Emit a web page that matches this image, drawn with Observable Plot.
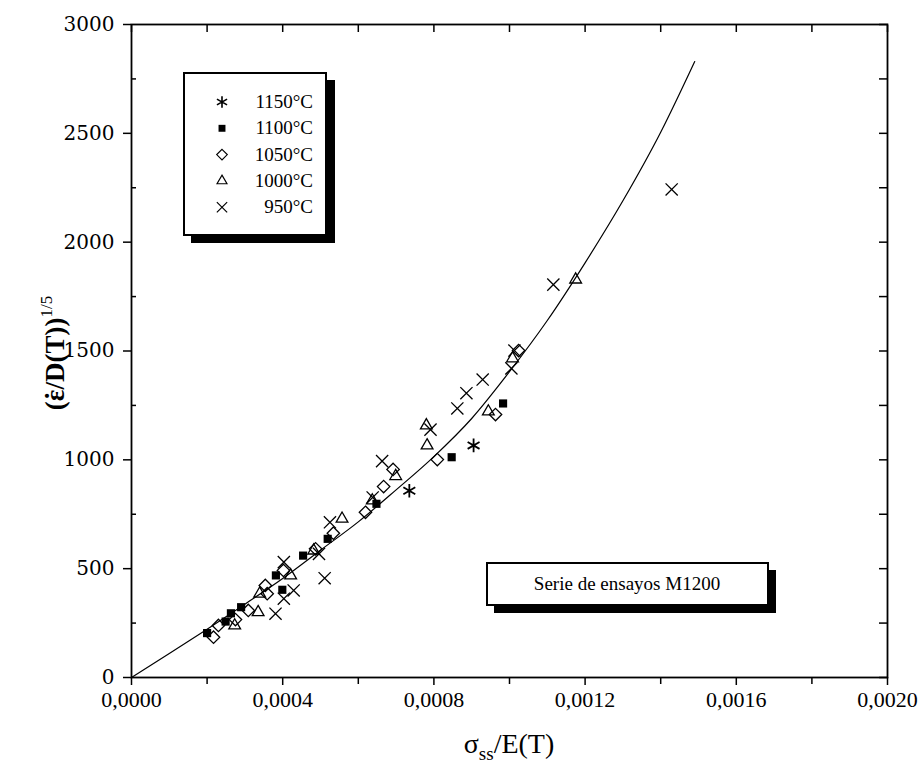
<!DOCTYPE html>
<html><head><meta charset="utf-8">
<script src="https://cdn.jsdelivr.net/npm/d3@7"></script>
<script src="https://cdn.jsdelivr.net/npm/@observablehq/plot@0.6"></script>
<style>body{margin:0;background:#fff}</style>
</head><body><div id="chart"></div>
<script>
// ---- data ----
const seriesNames = ["1150°C", "1100°C", "1050°C", "1000°C", "950°C"];

const x1150 = [0.000735, 0.000905];
const y1150 = [858, 1066];

const x1100 = [0.000200, 0.000249, 0.000263, 0.000290, 0.000382, 0.000399, 0.000454, 0.000519, 0.000648, 0.000847, 0.000983];
const y1100 = [204, 257, 295, 323, 469, 403, 560, 637, 798, 1012, 1259];

const x1050 = [0.000217, 0.000230, 0.000275, 0.000309, 0.000354, 0.000359, 0.000402, 0.000487, 0.000534, 0.000619, 0.000667, 0.000692, 0.000809, 0.000963, 0.001024];
const y1050 = [185, 239, 266, 308, 423, 385, 492, 591, 663, 759, 877, 956, 1001, 1208, 1502];

const x1000 = [0.000273, 0.000335, 0.000339, 0.000421, 0.000482, 0.000557, 0.000637, 0.000699, 0.000782, 0.000780, 0.000944, 0.001008, 0.001175];
const y1000 = [239, 300, 385, 469, 583, 729, 813, 925, 1066, 1158, 1222, 1466, 1828];

const x950 = [0.000381, 0.000403, 0.000429, 0.000403, 0.000511, 0.000496, 0.000525, 0.000638, 0.000663, 0.000791, 0.000862, 0.000886, 0.000929, 0.001005, 0.001013, 0.001116, 0.001429];
const y950 = [293, 362, 400, 530, 456, 568, 713, 827, 994, 1139, 1236, 1306, 1369, 1420, 1502, 1805, 2242];

const curveX = [0, 0.0001, 0.0002, 0.0003, 0.0004, 0.0005, 0.0006, 0.0007, 0.0008, 0.0009, 0.0010, 0.0011, 0.0012, 0.0013, 0.0014, 0.00149];
const curveY = [0, 110, 222, 337, 455, 585, 715, 862, 1015, 1190, 1405, 1640, 1905, 2190, 2505, 2830];

const xTicks = [0, 0.0004, 0.0008, 0.0012, 0.0016, 0.0020];
const xMinorTicks = [0.0002, 0.0006, 0.0010, 0.0014, 0.0018];
const yTicks = [0, 500, 1000, 1500, 2000, 2500, 3000];
const yMinorTicks = [250, 750, 1250, 1750, 2250, 2750];

const boxText = "Serie de ensayos M1200";
const xLabelMain = "σ", xLabelSub = "ss", xLabelRest = "/E(T)";
const yLabelOpen = "(ε", yLabelDot = "˙", yLabelRest = "/D(T))", yLabelSup = "1/5";

// ---- build tables ----
const zip = (xs, ys) => xs.map((x, i) => ({x, y: ys[i]}));
const d1150 = zip(x1150, y1150), d1100 = zip(x1100, y1100), d1050 = zip(x1050, y1050),
      d1000 = zip(x1000, y1000), d950 = zip(x950, y950), curve = zip(curveX, curveY);

const symbolsDef = [
  {name: seriesNames[0], symbol: "asterisk", fill: "none", stroke: "black", r: 6.5, sw: 1.8},
  {name: seriesNames[1], symbol: "square", fill: "black", stroke: "none", r: 4.6, sw: 1},
  {name: seriesNames[2], symbol: "diamond2", fill: "none", stroke: "black", r: 5.6, sw: 1.3},
  {name: seriesNames[3], symbol: "triangle2", fill: "none", stroke: "black", r: 5.6, sw: 1.3},
  {name: seriesNames[4], symbol: "times", fill: "none", stroke: "black", r: 5.6, sw: 1.3}
];
const datasets = [d1150, d1100, d1050, d1000, d950];

const fmtX = d => d.toFixed(4).replace(".", ",");
const fmtY = d => String(d);
const blank = () => "";

const chart = Plot.plot({
  width: 919, height: 774,
  marginLeft: 131, marginRight: 32, marginTop: 24, marginBottom: 97,
  style: {fontFamily: "Liberation Serif", background: "white", color: "black"},
  x: {domain: [0, 0.002]},
  y: {domain: [0, 3000]},
  marks: [
    Plot.axisY({ticks: yTicks, tickSize: 8, tickPadding: 9, fontSize: 20, fontFamily: "DejaVu Serif", tickFormat: fmtY, label: null, strokeWidth: 1.5}),
    Plot.axisY({ticks: yMinorTicks, tickSize: -5, tickFormat: blank, label: null, strokeWidth: 1.5}),
    Plot.axisY({anchor: "right", ticks: [...yTicks, ...yMinorTicks], tickSize: -9, tickFormat: blank, label: null, strokeWidth: 1.5}),
    Plot.axisX({ticks: xTicks, tickSize: 8, tickPadding: 6, fontSize: 22, tickFormat: fmtX, label: null, strokeWidth: 1.5}),
    Plot.axisX({ticks: xMinorTicks, tickSize: 7, tickFormat: blank, label: null, strokeWidth: 1.5}),
    Plot.axisX({anchor: "top", ticks: [...xTicks, ...xMinorTicks], tickSize: -7, tickFormat: blank, label: null, strokeWidth: 1.5}),
    Plot.frame({stroke: "black", strokeWidth: 1.8}),
    Plot.line(curve, {x: "x", y: "y", curve: "monotone-x", stroke: "black", strokeWidth: 1.2}),
    ...datasets.map((d, i) => Plot.dot(d, {
      x: "x", y: "y", symbol: () => symbolsDef[i].symbol, r: symbolsDef[i].r,
      fill: symbolsDef[i].fill, stroke: symbolsDef[i].stroke, strokeWidth: symbolsDef[i].sw
    }))
  ]
});

document.getElementById("chart").appendChild(chart);

// ---- annotations: axis titles, legend, info box ----
const svg = d3.select(chart);
const serif = "Liberation Serif";

// x title
const xt = svg.append("text").attr("x", 509).attr("y", 753).attr("text-anchor", "middle")
  .attr("font-family", serif).attr("font-size", 28).attr("fill", "black");
xt.append("tspan").text(xLabelMain);
xt.append("tspan").attr("font-size", 19).attr("dy", 7).text(xLabelSub);
xt.append("tspan").attr("dy", -7).text(xLabelRest);

// y title
const yt = svg.append("text").attr("transform", "translate(64,353) rotate(-90)").attr("text-anchor", "middle")
  .attr("font-family", serif).attr("font-size", 27).attr("font-weight", "bold").attr("fill", "black");
yt.append("tspan").text(yLabelOpen);
yt.append("tspan").attr("dx", "-0.39em").text(yLabelDot);
yt.append("tspan").attr("dx", "0.06em").text(yLabelRest);
yt.append("tspan").attr("font-size", 17).attr("font-weight", "normal").attr("dy", -12).text(yLabelSup);

// legend box
const lg = svg.append("g");
lg.append("rect").attr("x", 191).attr("y", 80).attr("width", 144).attr("height", 163).attr("fill", "black");
lg.append("rect").attr("x", 184).attr("y", 73).attr("width", 142).attr("height", 162)
  .attr("fill", "white").attr("stroke", "black").attr("stroke-width", 2);
const symMap = {asterisk: d3.symbolAsterisk, square: d3.symbolSquare, diamond2: d3.symbolDiamond2, triangle2: d3.symbolTriangle2, times: d3.symbolTimes};
symbolsDef.forEach((s, i) => {
  const yy = 102 + i * 26.3;
  const rr = s.r * 0.85;
  lg.append("path").attr("transform", `translate(222,${yy})`)
    .attr("d", d3.symbol(symMap[s.symbol], rr * rr * Math.PI)())
    .attr("fill", s.fill).attr("stroke", s.stroke).attr("stroke-width", s.sw * 0.9);
  lg.append("text").attr("x", 313).attr("y", yy + 6).attr("text-anchor", "end")
    .attr("font-family", serif).attr("font-size", 19).attr("fill", "black").text(s.name);
});

// info box
const ib = svg.append("g");
ib.append("rect").attr("x", 494).attr("y", 570).attr("width", 282).attr("height", 43).attr("fill", "black");
ib.append("rect").attr("x", 487).attr("y", 563).attr("width", 281).attr("height", 42)
  .attr("fill", "white").attr("stroke", "black").attr("stroke-width", 2);
ib.append("text").attr("x", 627).attr("y", 590).attr("text-anchor", "middle")
  .attr("font-family", serif).attr("font-size", 19).attr("fill", "black").text(boxText);
</script>
</body></html>
